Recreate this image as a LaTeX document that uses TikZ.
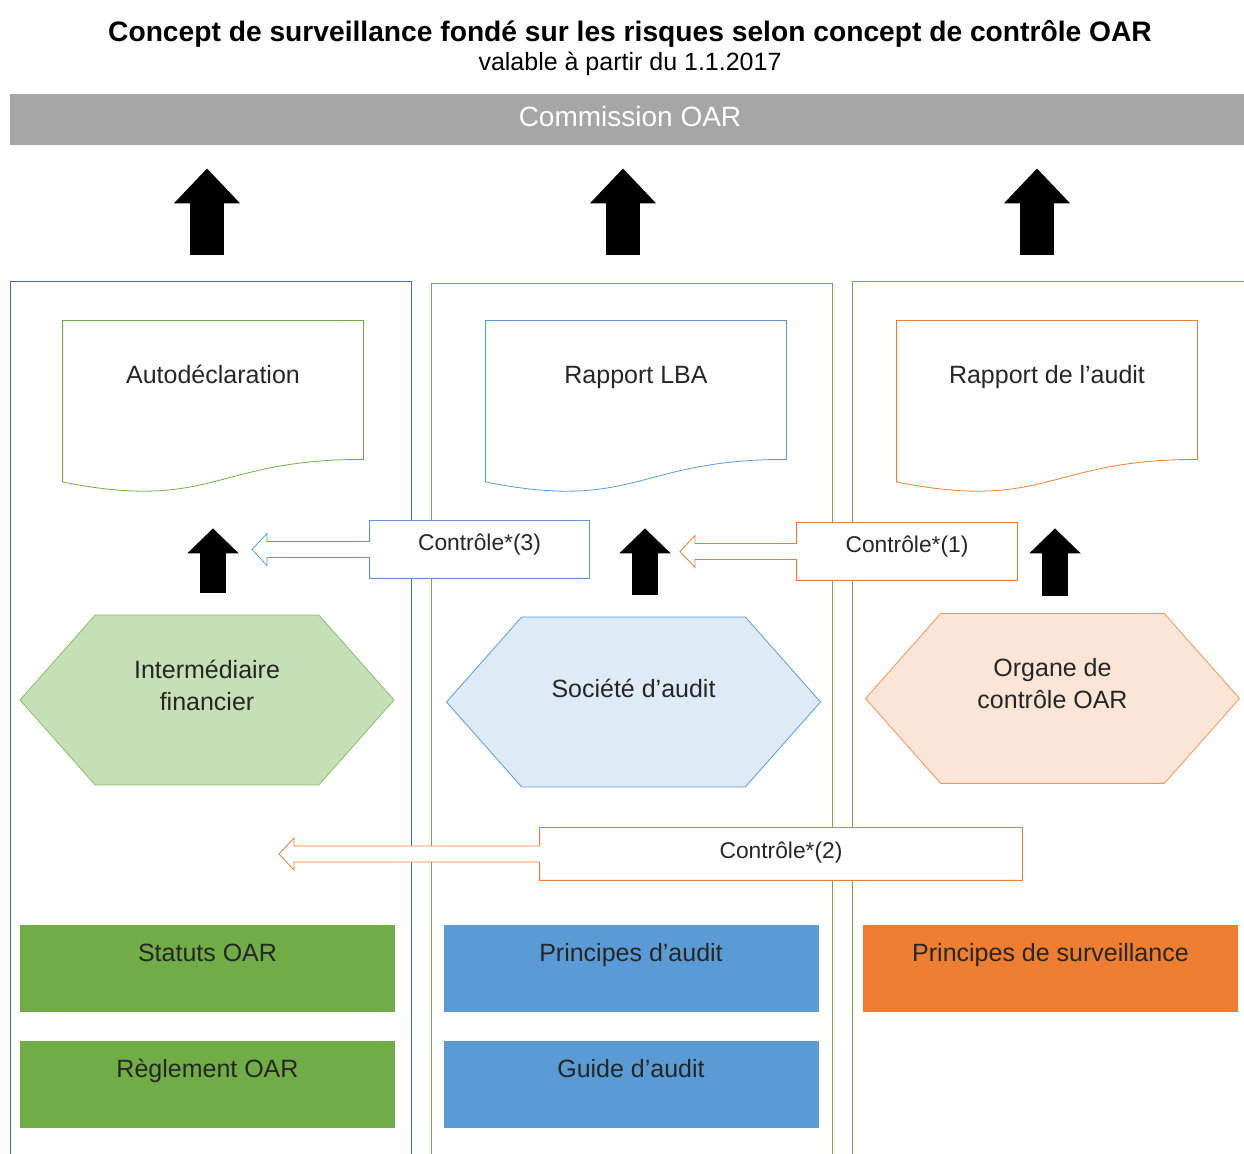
\documentclass[tikz,border=0pt]{standalone}
\usepackage{fontspec}
\setmainfont{Liberation Sans}
\usepackage{tikz}
\usetikzlibrary{positioning,shapes.symbols,arrows.meta}
\usepackage{xcolor}
\definecolor{bandgrey}{HTML}{A6A6A6}
\definecolor{oblue}{HTML}{5B9BD5}
\definecolor{ogreen}{HTML}{70AD47}
\definecolor{oorange}{HTML}{ED7D31}
\definecolor{paneblue}{HTML}{41719C}
\definecolor{hexgreen}{HTML}{C5E0B4}
\definecolor{hexblue}{HTML}{DEEBF7}
\definecolor{hexorange}{HTML}{FBE5D6}
\definecolor{inkgrey}{HTML}{262626}

\tikzset{
  panel/.style={draw, minimum width=200.5pt, inner sep=0pt},
  docbox/.style={minimum width=150pt, inner sep=0pt, text height=31.5pt, text depth=54.5pt},
  hexa/.style={signal, signal to=east and west, signal pointer angle=97, minimum width=187pt, minimum height=85pt, inner sep=0pt},
  hextext/.style={align=center, font=\fontsize{12.5}{16}\selectfont},
  rulebox/.style={minimum width=187.5pt, minimum height=43.5pt, inner sep=0pt, text height=18.5pt, text depth=25pt},
  ctrl/.style={fill=white, inner sep=0pt, text height=8pt, text depth=6.5pt, font=\fontsize{11.4}{14}\selectfont},
  bigarrow/.style={line width=17pt, -{Triangle[width=32pt, length=17.5pt]}, shorten >=11.5pt},
  smallarrow/.style={line width=13pt, -{Triangle[width=25pt, length=12.5pt]}, shorten >=17.5pt}
}

\begin{document}
\begin{tikzpicture}[x=0.5pt, y=-0.5pt, font=\fontsize{12.5}{15}\selectfont, text=inkgrey]
\clip (0,0) rectangle (1244,1154);
\node[text=black, font=\bfseries\fontsize{14.1}{17}\selectfont] (title) at (630,34) {Concept de surveillance fondé sur les risques selon concept de contrôle OAR};
\node[text=black] (subtitle) at (630,64) {valable à partir du 1.1.2017};
\node[fill=bandgrey, text=white, minimum width=620pt, minimum height=25.5pt, text height=10pt, text depth=3pt, font=\fontsize{14}{16}\selectfont] (band) at (630,119.5) {Commission OAR};

\node[panel, draw=paneblue, minimum height=444.5pt] (panelA) at (210.5,725.5) {};
\node[panel, draw=ogreen, minimum height=443.5pt] (panelB) at (631.5,726.5) {};
\node[panel, draw=ogreen, minimum height=444.5pt] (panelC) at (1052.5,725.5) {};

\coordinate (upA) at (207,255);
\coordinate (upB) at (623,255);
\coordinate (upC) at (1037,255);
\draw[bigarrow] (upA) -- (upA |- band.south);
\draw[bigarrow] (upB) -- (upB |- band.south);
\draw[bigarrow] (upC) -- (upC |- band.south);

\node[docbox] (autodecl) at (213,407) {Autodéclaration};
\node[docbox] (rapportlba) at (636,407) {Rapport LBA};
\node[docbox] (rapportaudit) at (1047,407) {Rapport de l'audit};
\foreach \d/\c in {autodecl/ogreen, rapportlba/oblue, rapportaudit/oorange}
  \draw[\c] (\d.north west) -- (\d.north east) -- ([yshift=17pt]\d.south east) .. controls ([yshift=17pt]\d.south) and ([yshift=-9.25pt]\d.south) .. ([yshift=5.7pt]\d.south west) -- cycle;

\coordinate (stepA) at (213,593);
\coordinate (stepB) at (645,595);
\coordinate (stepC) at (1055,596);
\draw[smallarrow] (stepA) -- (stepA |- autodecl.south);
\draw[smallarrow] (stepB) -- (stepB |- rapportlba.south);
\draw[smallarrow] (stepC) -- (stepC |- rapportaudit.south);

\node[hexa, fill=hexgreen, draw=ogreen!80, label={[hextext, yshift=7.5pt]center:Intermédiaire\\financier}] (intermediaire) at (207,700) {};
\node[hexa, fill=hexblue, draw=oblue, label={[hextext, yshift=7pt]center:Société d'audit}] (societe) at (633.5,702) {};
\node[hexa, fill=hexorange, draw=oorange!80, label={[hextext, yshift=7.5pt]center:Organe de\\contrôle OAR}] (organe) at (1052.5,698.5) {};

\node[ctrl, minimum width=109.5pt, minimum height=28.5pt] (ctrlthree) at (479.5,549.5) {Contrôle*(3)};
\coordinate (ctrlthree-tip) at (252,549.5);
\node[ctrl, minimum width=110pt, minimum height=28.5pt] (ctrlone) at (907,551.5) {Contrôle*(1)};
\coordinate (ctrlone-tip) at (680,551.5);
\node[ctrl, minimum width=241pt, minimum height=26pt, text depth=3.2pt] (ctrltwo) at (781,854) {Contrôle*(2)};
\coordinate (ctrltwo-tip) at (279,854);
\foreach \c/\col in {ctrlone/oorange, ctrltwo/oorange, ctrlthree/oblue} {
  \fill[white] ([yshift=-4pt]\c.west) -- ([shift={(7.5pt,-4pt)}]\c-tip) -- ([shift={(7.5pt,-8pt)}]\c-tip) -- (\c-tip) -- ([shift={(7.5pt,8pt)}]\c-tip) -- ([shift={(7.5pt,4pt)}]\c-tip) -- ([yshift=4pt]\c.west) -- cycle;
  \draw[\col] (\c.north west) -- (\c.north east) -- (\c.south east) -- (\c.south west) -- ([yshift=-4pt]\c.west) -- ([shift={(7.5pt,-4pt)}]\c-tip) -- ([shift={(7.5pt,-8pt)}]\c-tip) -- (\c-tip) -- ([shift={(7.5pt,8pt)}]\c-tip) -- ([shift={(7.5pt,4pt)}]\c-tip) -- ([yshift=4pt]\c.west) -- cycle;
}

\node[rulebox, fill=ogreen] (statuts) at (207.5,968.5) {Statuts OAR};
\node[rulebox, fill=ogreen] (reglement) at (207.5,1084.5) {Règlement OAR};
\node[rulebox, fill=oblue] (principesaudit) at (631,968.5) {Principes d'audit};
\node[rulebox, fill=oblue] (guide) at (631,1084.5) {Guide d'audit};
\node[rulebox, fill=oorange] (principessurv) at (1050.5,968.5) {Principes de surveillance};
\end{tikzpicture}
\end{document}
